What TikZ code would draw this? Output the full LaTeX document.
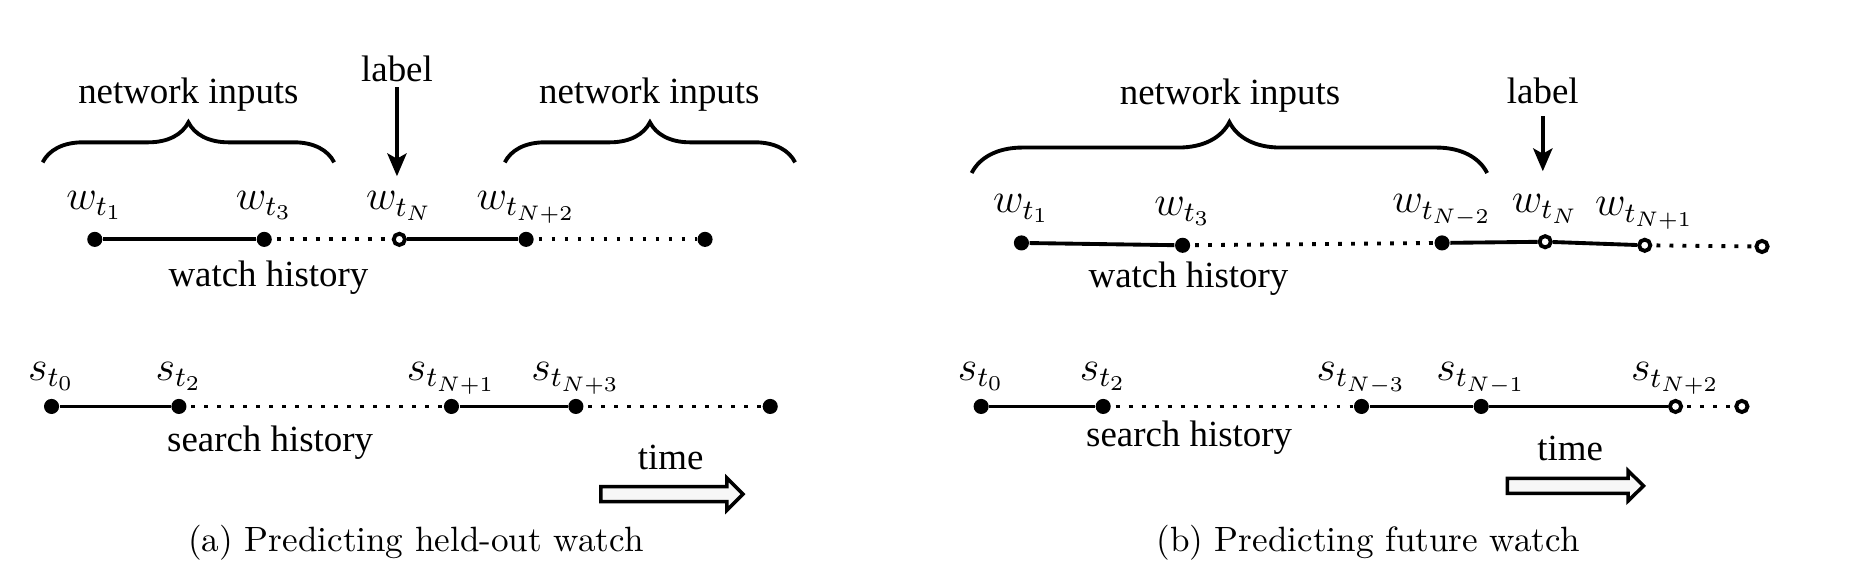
\documentclass[tikz,border=0pt]{standalone}
\usepackage{fontspec}
\newfontfamily\lblfont{Liberation Serif}
\usetikzlibrary{positioning, arrows.meta, decorations.pathreplacing}

\begin{document}
\begin{tikzpicture}[x=0.01185cm, y=-0.01185cm,
  pt/.style={circle, fill=black, inner sep=0pt, minimum size=4.3pt},
  opt/.style={circle, draw=black, fill=white, line width=1.1pt, inner sep=0pt, minimum size=3.2pt},
  seg/.style={line width=1.1pt},
  gap/.style={line width=1.1pt, dash pattern=on 1.1pt off 2.6pt, dash phase=-1.2pt},
  sym/.style={font=\large, anchor=base, inner sep=0pt},
  txt/.style={font=\lblfont\fontsize{10.5}{12}\selectfont, anchor=base, inner sep=0pt},
  captxt/.style={font=\normalsize, anchor=base, inner sep=0pt},
  brc/.style={decorate, decoration={brace, amplitude=#1}, line width=1.1pt},
  lblarrow/.style={-{Stealth[length=6.5pt, width=5.5pt, inset=1.5pt]}, line width=1pt},
  timearrow/.style={draw, fill=gray!6, line width=1pt, line join=miter},
]
\useasboundingbox (0,0) rectangle (1568,491);

% (a) held-out watch
\coordinate (bra1) at (36,137);
\coordinate (bra2) at (282,137);
\coordinate (bra3) at (426,137);
\coordinate (bra4) at (671,137);
\draw[brc=11.4pt] (bra1) -- (bra2);
\draw[brc=11.4pt] (bra3) -- (bra4);
\node[txt] (nia1) at (159,87) {network inputs};
\node[txt] (nia2) at (548,87) {network inputs};

\node[pt]  (wa1) at (80,202) {};
\node[pt]  (wa2) at (223,202) {};
\node[opt] (wa3) at (337,202) {};
\node[pt]  (wa4) at (444,202) {};
\node[pt]  (wa5) at (595,202) {};
\node[above=0.22cm of wa1, sym] (lwa1) {$w_{t_1}$};
\node[above=0.22cm of wa2, sym] (lwa2) {$w_{t_3}$};
\node[above=0.22cm of wa3, sym] (lwa3) {$w_{t_N}$};
\node[above=0.22cm of wa4, sym] (lwa4) {$w_{t_{N+2}}$};
\draw[seg] (wa1) -- (wa2);
\draw[gap] (wa2) -- (wa3);
\draw[seg] (wa3) -- (wa4);
\draw[gap] (wa4) -- (wa5);
\node[txt] (wha) at (226.5,242) {watch history};

\node[txt] (laba) at (335,69) {label};
\draw[lblarrow, shorten <=1.3pt, shorten >=4.2pt] (laba) -- (laba |- lwa3.north);

\node[pt] (sa1) at (43.5,343) {};
\node[pt] (sa2) at (151,343) {};
\node[pt] (sa3) at (381,343) {};
\node[pt] (sa4) at (486,343) {};
\node[pt] (sa5) at (650,343) {};
\node[above=0.18cm of sa1, sym] (lsa1) {$s_{t_0}$};
\node[above=0.18cm of sa2, sym] (lsa2) {$s_{t_2}$};
\node[above=0.18cm of sa3, sym] (lsa3) {$s_{t_{N+1}}$};
\node[above=0.18cm of sa4, sym] (lsa4) {$s_{t_{N+3}}$};
\draw[seg] (sa1) -- (sa2);
\draw[gap] (sa2) -- (sa3);
\draw[seg] (sa3) -- (sa4);
\draw[gap] (sa4) -- (sa5);
\node[txt] (sha) at (228,381) {search history};

\node[txt] (tia) at (566,396.6) {time};
\coordinate (tma) at (507,417);
\draw[timearrow] (tma) ++(0,-6.35) -- ++(106.5,0) -- ++(0,-7.15) -- ++(13.5,13.5)
  -- ++(-13.5,13.5) -- ++(0,-7.15) -- ++(-106.5,0) -- cycle;

\node[captxt] (capa) at (351,465) {(a) Predicting held-out watch};

% (b) future watch
\coordinate (brb1) at (820,146);
\coordinate (brb2) at (1255,146);
\draw[brc=14.5pt] (brb1) -- (brb2);
\node[txt] (nib) at (1038,88.6) {network inputs};

\node[pt]  (wb1) at (862,205) {};
\node[pt]  (wb2) at (998,207) {};
\node[pt]  (wb3) at (1217,205) {};
\node[opt] (wb4) at (1304,204) {};
\node[opt] (wb5) at (1388,207) {};
\node[opt] (wb6) at (1487,208) {};
\node[above=0.22cm of wb1, sym] (lwb1) {$w_{t_1}$};
\node[above=0.22cm of wb2, sym] (lwb2) {$w_{t_3}$};
\node[above=0.22cm of wb3, sym] (lwb3) {$w_{t_{N-2}}$};
\node[above=0.22cm of wb4, sym] (lwb4) {$w_{t_N}$};
\node[above=0.22cm of wb5, sym] (lwb5) {$w_{t_{N+1}}$};
\draw[seg] (wb1) -- (wb2);
\draw[gap] (wb2) -- (wb3);
\draw[seg] (wb3) -- (wb4) -- (wb5);
\draw[gap] (wb5) -- (wb6);
\node[txt] (whb) at (1003,243) {watch history};

\node[txt] (labb) at (1302,87) {label};
\draw[lblarrow, shorten <=3.4pt, shorten >=6.3pt] (labb) -- (labb |- lwb4.north);

\node[pt]  (sb1) at (828,343) {};
\node[pt]  (sb2) at (931,343) {};
\node[pt]  (sb3) at (1149,343) {};
\node[pt]  (sb4) at (1250,343) {};
\node[opt] (sb5) at (1414,343) {};
\node[opt] (sb6) at (1470,343) {};
\node[above=0.18cm of sb1, sym] (lsb1) {$s_{t_0}$};
\node[above=0.18cm of sb2, sym] (lsb2) {$s_{t_2}$};
\node[above=0.18cm of sb3, sym] (lsb3) {$s_{t_{N-3}}$};
\node[above=0.18cm of sb4, sym] (lsb4) {$s_{t_{N-1}}$};
\node[above=0.18cm of sb5, sym] (lsb5) {$s_{t_{N+2}}$};
\draw[seg] (sb1) -- (sb2);
\draw[gap] (sb2) -- (sb3);
\draw[seg] (sb3) -- (sb4) -- (sb5);
\draw[gap] (sb5) -- (sb6);
\node[txt] (shb) at (1003.5,377) {search history};

\node[txt] (tib) at (1325,388.8) {time};
\coordinate (tmb) at (1272,410);
\draw[timearrow] (tmb) ++(0,-6.3) -- ++(102,0) -- ++(0,-6.4) -- ++(13,12.7)
  -- ++(-13,12.7) -- ++(0,-6.4) -- ++(-102,0) -- cycle;

\node[captxt] (capb) at (1154.5,465) {(b) Predicting future watch};
\end{tikzpicture}
\end{document}
